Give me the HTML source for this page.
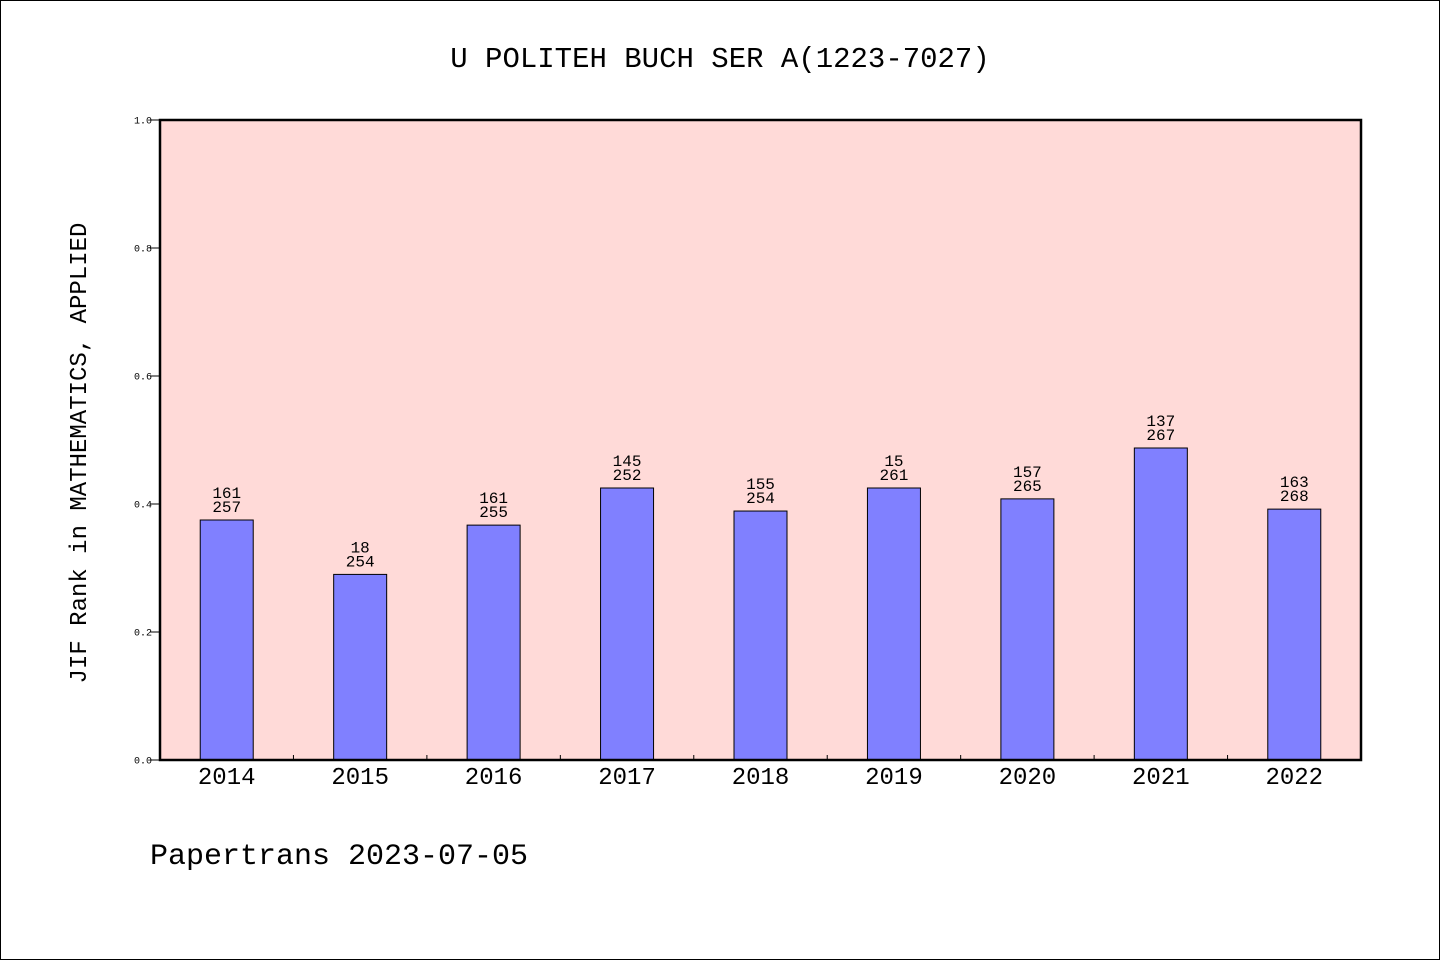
<!DOCTYPE html>
<html><head><meta charset="utf-8"><style>
body{margin:0;background:#fff}
svg{display:block}
text{font-family:"WenQuanYi Zen Hei","Liberation Mono",monospace;fill:#000}
</style></head><body>
<svg width="1440" height="960">
<rect x="0.5" y="0.5" width="1439" height="959" fill="#fff" stroke="#000"/>
<text x="720" y="67" text-anchor="middle" font-size="29">U POLITEH BUCH SER A(1223-7027)</text>
<rect x="160" y="120" width="1201" height="640" fill="#ffdad8"/>
<g id="bars"></g>
<g id="axes"></g>
<rect x="160" y="120" width="1201" height="640" fill="none" stroke="#000" stroke-width="2.5"/>
<text transform="translate(86,453) rotate(-90)" text-anchor="middle" font-size="24">JIF Rank in MATHEMATICS, APPLIED</text>
<text x="150" y="864" font-size="30">Papertrans 2023-07-05</text>
</svg>
<script>
const categories=["2014","2015","2016","2017","2018","2019","2020","2021","2022"];
const values=[0.375,0.29,0.367,0.425,0.389,0.425,0.408,0.4875,0.392];
const ranks=["161","18","161","145","155","15","157","137","163"];
const totals=["257","254","255","252","254","261","265","267","268"];
const yTicks=[0,0.2,0.4,0.6,0.8,1.0];
const NS="http://www.w3.org/2000/svg";
const x0=160,x1=1361,y0=760,y1=120;
const band=(x1-x0)/categories.length;
const xc=i=>x0+band*(i+0.5);
const ys=v=>y0-(y0-y1)*v;
function mk(tag,attrs,parent){const e=document.createElementNS(NS,tag);for(const k in attrs)e.setAttribute(k,attrs[k]);parent.appendChild(e);return e;}
const bars=document.getElementById('bars'),axes=document.getElementById('axes');
categories.forEach((c,i)=>{
 const r=mk('rect',{x:xc(i)-26.5,y:ys(values[i]),width:53,height:y0-ys(values[i]),fill:'#8080ff',stroke:'#000','stroke-width':1},bars);
 
 
 const t1=mk('text',{x:xc(i),y:ys(values[i])-22,'text-anchor':'middle','font-size':16},bars);t1.textContent=ranks[i];
 
 
 const t2=mk('text',{x:xc(i),y:ys(values[i])-8,'text-anchor':'middle','font-size':16},bars);t2.textContent=totals[i];
 
 
 const xt=mk('text',{x:xc(i),y:784,'text-anchor':'middle','font-size':24},axes);xt.textContent=c;
 
 
 if(i>0){const l=mk('line',{x1:x0+band*i,x2:x0+band*i,y1:y0,y2:y0-5,stroke:'#000'},axes);
 
 }
});
yTicks.forEach(v=>{
 const l=mk('line',{x1:150,x2:160,y1:ys(v),y2:ys(v),stroke:'#000'},axes);
 
 
 const t=mk('text',{x:152,y:ys(v)+3.5,'text-anchor':'end','font-size':10},axes);t.textContent=v.toFixed(1);
 
 
});
</script>
</body></html>
